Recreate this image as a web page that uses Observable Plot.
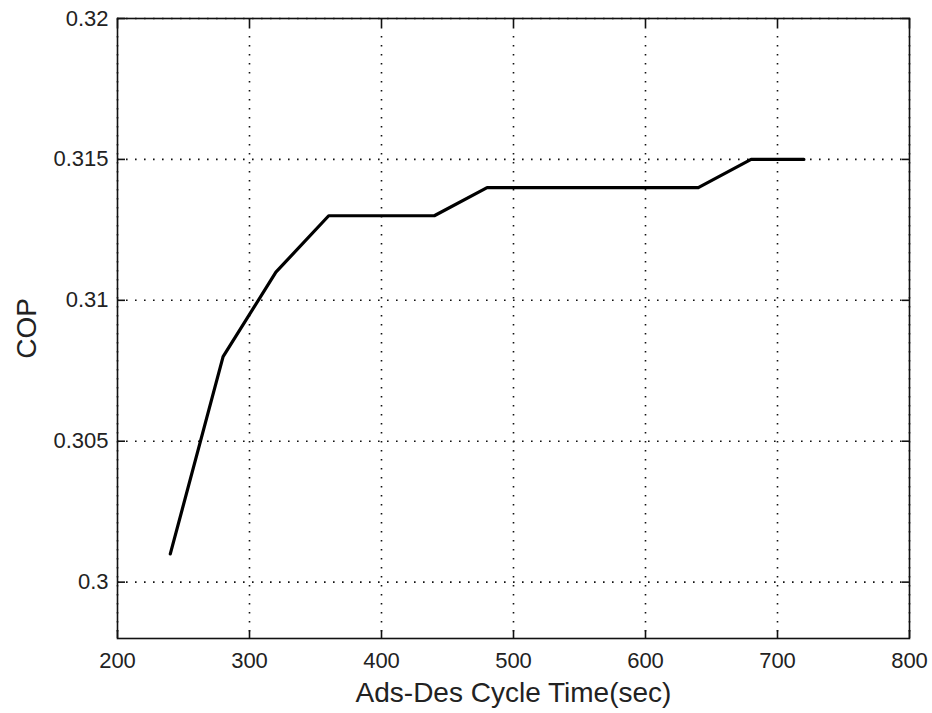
<!DOCTYPE html>
<html>
<head>
<meta charset="utf-8">
<script src="https://cdn.jsdelivr.net/npm/d3@7"></script>
<script src="https://cdn.jsdelivr.net/npm/@observablehq/plot@0.6"></script>
<style>
  html, body { margin: 0; padding: 0; background: #fff; }
  #chart svg { display: block; }
</style>
</head>
<body>
<div id="chart"></div>
<script>
// Cycle time (seconds) and the resulting coefficient of performance
const cycleTime = [240, 280, 320, 360, 440, 480, 640, 680, 720];
const cop = [0.301, 0.308, 0.311, 0.313, 0.313, 0.314, 0.314, 0.315, 0.315];

const xTicks = [200, 300, 400, 500, 600, 700, 800];
const yTicks = [0.3, 0.305, 0.31, 0.315, 0.32];
const yTickLabels = ["0.3", "0.305", "0.31", "0.315", "0.32"];

const xLabel = "Ads-Des Cycle Time(sec)";
const yLabel = "COP";

const rows = cycleTime.map((t, i) => ({t, cop: cop[i]}));
const ink = "#111";
const dots = "1.6,7.4";
const tickLen = 8;
const blank = () => "";

const chart = Plot.plot({
  width: 932,
  height: 713,
  marginLeft: 117,
  marginRight: 23,
  marginTop: 18,
  marginBottom: 75,
  style: {fontFamily: "'Liberation Sans', Arial, Helvetica, sans-serif", fontSize: "22px", color: "#222", background: "#fff"},
  x: {domain: [200, 800]},
  y: {domain: [0.298, 0.32]},
  marks: [
    Plot.gridX(xTicks, {stroke: ink, strokeOpacity: 1, strokeDasharray: dots, strokeWidth: 1.6}),
    Plot.gridY(yTicks, {stroke: ink, strokeOpacity: 1, strokeDasharray: dots, strokeWidth: 1.6}),
    Plot.frame({stroke: ink, strokeWidth: 1.6}),
    // tick labels and axis titles
    Plot.axisX(xTicks, {anchor: "bottom", tickSize: 0, tickPadding: 14, label: xLabel, labelAnchor: "center",
      labelArrow: "none", labelOffset: 63, fontSize: 22}),
    Plot.axisY(yTicks, {anchor: "left", tickSize: 0, tickPadding: 9, tickFormat: (d) => yTickLabels[yTicks.indexOf(d)],
      label: yLabel, labelAnchor: "center", labelArrow: "none", labelOffset: 101, fontSize: 22}),
    // tick marks on all four sides of the box (turned inward below)
    Plot.axisX(xTicks, {anchor: "bottom", tickSize: tickLen, tickFormat: blank, label: null, stroke: ink, strokeWidth: 1.6}),
    Plot.axisX(xTicks, {anchor: "top", tickSize: tickLen, tickFormat: blank, label: null, stroke: ink, strokeWidth: 1.6}),
    Plot.axisY(yTicks, {anchor: "left", tickSize: tickLen, tickFormat: blank, label: null, stroke: ink, strokeWidth: 1.6}),
    Plot.axisY(yTicks, {anchor: "right", tickSize: tickLen, tickFormat: blank, label: null, stroke: ink, strokeWidth: 1.6}),
    Plot.line(rows, {x: "t", y: "cop", stroke: "#000", strokeWidth: 3.2, strokeLinejoin: "round"})
  ]
});

// larger type for the axis titles
chart.querySelectorAll("g[aria-label='x-axis label'], g[aria-label='y-axis label']").forEach((g) => {
  g.style.fontSize = "28px";
  g.querySelectorAll("text").forEach((t) => { t.style.fontSize = "28px"; });
});

// point the ticks into the plotting area: bottom, top, left, right
const shifts = [[0, -tickLen], [0, tickLen], [tickLen, 0], [-tickLen, 0]];
[...chart.querySelectorAll("g[aria-label='x-axis tick'], g[aria-label='y-axis tick']")].forEach((g, i) => {
  const [sx, sy] = shifts[i];
  g.setAttribute("transform", `translate(${sx},${sy}) ` + (g.getAttribute("transform") || ""));
});

document.getElementById("chart").appendChild(chart);
</script>
</body>
</html>
